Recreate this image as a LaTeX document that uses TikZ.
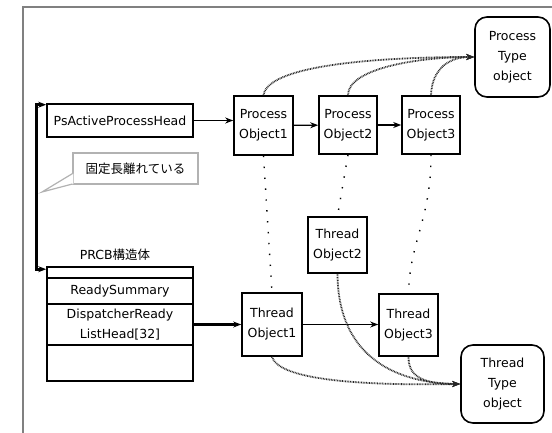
\documentclass[tikz,border=0pt]{standalone}
\usepackage{fontspec}
\setmainfont{DejaVu Sans}
\newfontfamily\jpfont{Noto Sans CJK JP}
\usetikzlibrary{arrows.meta}

\begin{document}
\begin{tikzpicture}[>={Stealth[length=8pt, width=6pt]}, x=1pt, y=-1pt,
  every node/.style={font=\fontsize{12.5}{20}\selectfont, align=center, inner sep=0pt},
  obj/.style={draw, line width=1.6pt, minimum width=58pt, minimum height=58pt},
  typeobj/.style={draw, line width=1.6pt, rounded corners=12pt},
  field/.style={draw, line width=1.6pt, minimum width=146pt},
  link/.style={->, line width=1.5pt},
  ref/.style={line width=1.4pt, dash pattern=on 1.4pt off 9.5pt},
  typeref/.style={->, line width=1.8pt, black!85, dash pattern=on 0.8pt off 0.8pt}]
  \useasboundingbox (0,0) rectangle (552,432);
  % 枠
  \draw[gray, line width=1.5pt] (23,7) rectangle (600,480);
  % プロセス側
  \node[draw, line width=1.6pt, minimum width=146pt, minimum height=33pt] (psh) at (120,120.5) {PsActiveProcessHead};
  \node[obj, minimum width=59pt, minimum height=59pt] (po1) at (263.5,125.5) {Process\\Object1};
  \node[obj] (po2) at (348,125) {Process\\Object2};
  \node[obj] (po3) at (431,125) {Process\\Object3};
  \node[typeobj, minimum width=75pt, minimum height=80pt] (pto) at (512.5,57) {Process\\Type\\object};
  % 吹き出し
  \node[draw=black!30, line width=1.2pt, minimum width=125pt, minimum height=31pt] (note) at (135.5,168.5) {\jpfont 固定長離れている};
  \coordinate (tip) at (42,192);
  \fill[white] ([yshift=11pt, xshift=1pt]note.south west) -- (tip) -- ([yshift=0.6pt, xshift=1pt]note.south west) -- cycle;
  \draw[black!30, line width=1.2pt] ([yshift=11pt]note.south west) -- (tip) -- ([yshift=0.6pt]note.south west);
  % PRCB
  \node (prcblabel) at (115,255) {PRCB{\jpfont 構造体}};
  \node[field, minimum height=11pt] (row0) at (120,272.5) {};
  \node[field, minimum height=26pt] (row1) at (120,291) {ReadySummary};
  \node[field, minimum height=41pt] (row2) at (120,324.5) {DispatcherReady\\ListHead[32]};
  \node[field, minimum height=36pt] (row3) at (120,363) {};
  % スレッド側
  \node[obj, minimum width=60pt, minimum height=63pt] (to1) at (272,324.5) {Thread\\Object1};
  \node[obj, minimum width=59pt, minimum height=56pt] (to2) at (337.5,245) {Thread\\Object2};
  \node[obj, minimum width=59pt, minimum height=62pt] (to3) at (408.5,325) {Thread\\Object3};
  \node[typeobj, minimum width=83pt, minimum height=78pt] (tto) at (502.5,384) {Thread\\Type\\object};

  \draw[<->, line width=3pt] ([yshift=-1.5pt]psh.north west) -- ++(-10,0) |- ([yshift=-3pt]row0.north west);
  \draw[link] (psh) -- (po1.west |- psh);
  \draw[->, line width=1.2pt] (po1) -- (po2);
  \draw[->, line width=2.5pt] (po2) -- (po3);
  \draw[->, line width=3pt] (row2) -- (to1.west |- row2);
  \draw[link] (to1.east |- row2) -- (to3.west |- row2);
  % オブジェクト間
  \draw[ref] (po1.south) -- (to1.north);
  \draw[ref] (po2.south) -- (to2.north);
  \draw[ref] (po3.south) .. controls (431,220) and (410,240) .. (to3.north);
  % 型オブジェクト
  \draw[typeref] (po1.north) .. controls (268,62) and (400,57) .. (pto.west);
  \draw[typeref] (po2.north) .. controls (348,68) and (420,57) .. (pto.west);
  \draw[typeref] (po3.north) .. controls (432,68) and (450,57) .. (pto.west);
  \draw[typeref] (to1.south) .. controls (280,385) and (400,385) .. (tto.west);
  \draw[typeref] (to2.south) .. controls (338,360) and (400,383) .. (tto.west);
  \draw[typeref] (to3.south) .. controls (408,380) and (430,384) .. (tto.west);
\end{tikzpicture}
\end{document}
